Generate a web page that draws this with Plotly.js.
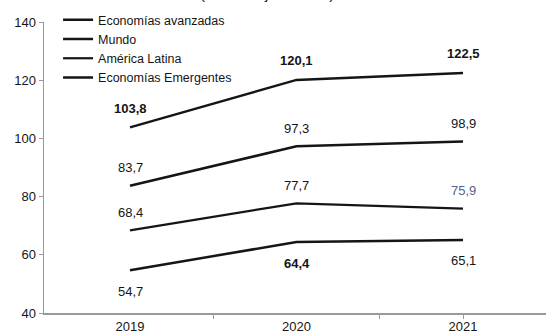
<!DOCTYPE html>
<html>
<head>
<meta charset="utf-8">
<script src="https://cdn.plot.ly/plotly-3.0.1.min.js"></script>
<style>html,body{margin:0;padding:0;background:#fff;}#chart{width:546px;height:336px;}</style>
</head>
<body>
<div id="chart"></div>
<script>
const years = ['2019', '2020', '2021'];
const seriesNames = ['Economías avanzadas', 'Mundo', 'América Latina', 'Economías Emergentes'];
const avanzadas = [103.8, 120.1, 122.5];
const mundo = [83.7, 97.3, 98.9];
const americaLatina = [68.4, 77.7, 75.9];
const emergentes = [54.7, 64.4, 65.1];
const labelsAvanzadas = ['103,8', '120,1', '122,5'];
const labelsMundo = ['83,7', '97,3', '98,9'];
const labelsAL = ['68,4', '77,7', '75,9'];
const labelsEmergentes = ['54,7', '64,4', '65,1'];
const yTicks = [40, 60, 80, 100, 120, 140];

const seriesValues = [avanzadas, mundo, americaLatina, emergentes];
const seriesLabels = [labelsAvanzadas, labelsMundo, labelsAL, labelsEmergentes];
const xIdx = years.map((_, i) => i);

const traces = seriesValues.map((vals, s) => ({
  x: xIdx, y: vals, type: 'scatter', mode: 'lines', name: seriesNames[s],
  line: {color: '#151515', width: s === 2 ? 2.2 : 2.5},
  hoverinfo: 'skip'
}));

const shifts = [19, 18, 18, -21];
const annotations = [];
seriesLabels.forEach((labs, s) => {
  labs.forEach((t, i) => {
    const bold = (s === 0) || (s === 3 && i === 1);
    annotations.push({
      x: xIdx[i], y: seriesValues[s][i], xref: 'x', yref: 'y',
      text: bold ? '<b>' + t + '</b>' : t,
      showarrow: false, yshift: shifts[s], xanchor: 'center', yanchor: 'middle',
      font: {family: 'Liberation Sans, Arial, sans-serif', size: 13,
             color: (s === 2 && i === 2) ? '#56648a' : '#151515'}
    });
  });
});
annotations.push({
  x: 0.444, y: 1, xref: 'paper', yref: 'paper', xanchor: 'center', yanchor: 'bottom',
  yshift: 18, showarrow: false, text: '(Porcentaje del PIB)',
  font: {family: 'Liberation Sans, Arial, sans-serif', size: 15, color: '#151515'}
});

const layout = {
  width: 546, height: 336,
  margin: {l: 44, r: 0, t: 22, b: 23, pad: 0},
  paper_bgcolor: '#fff', plot_bgcolor: '#fff',
  font: {family: 'Liberation Sans, Arial, sans-serif', size: 13, color: '#151515'},
  showlegend: true,
  legend: {x: 0.028, y: 1.058, xanchor: 'left', yanchor: 'top', bgcolor: 'rgba(0,0,0,0)',
           font: {size: 12.5, color: '#151515'}, tracegroupgap: 0, itemwidth: 30},
  xaxis: {
    range: [-0.5165, 2.4985], tickmode: 'array', tickvals: xIdx, ticktext: years,
    ticks: '', showgrid: false, zeroline: false, showline: true, linecolor: '#9a9a9a', linewidth: 2,
    tickfont: {size: 13}, fixedrange: true,
    minor: {tickmode: 'array', tickvals: [0.5, 1.5, 2], ticks: 'outside', ticklen: 4, tickcolor: '#9a9a9a', tickwidth: 1, showgrid: false}
  },
  yaxis: {
    range: [40, 140], tickmode: 'array', tickvals: yTicks, ticks: 'outside', ticklen: 4,
    tickcolor: '#9a9a9a', showgrid: false, zeroline: false, showline: true, linecolor: '#9a9a9a',
    linewidth: 1.5, tickfont: {size: 13}, fixedrange: true
  },
  annotations: annotations
};

Plotly.newPlot('chart', traces, layout, {displayModeBar: false, staticPlot: true});
</script>
</body>
</html>
